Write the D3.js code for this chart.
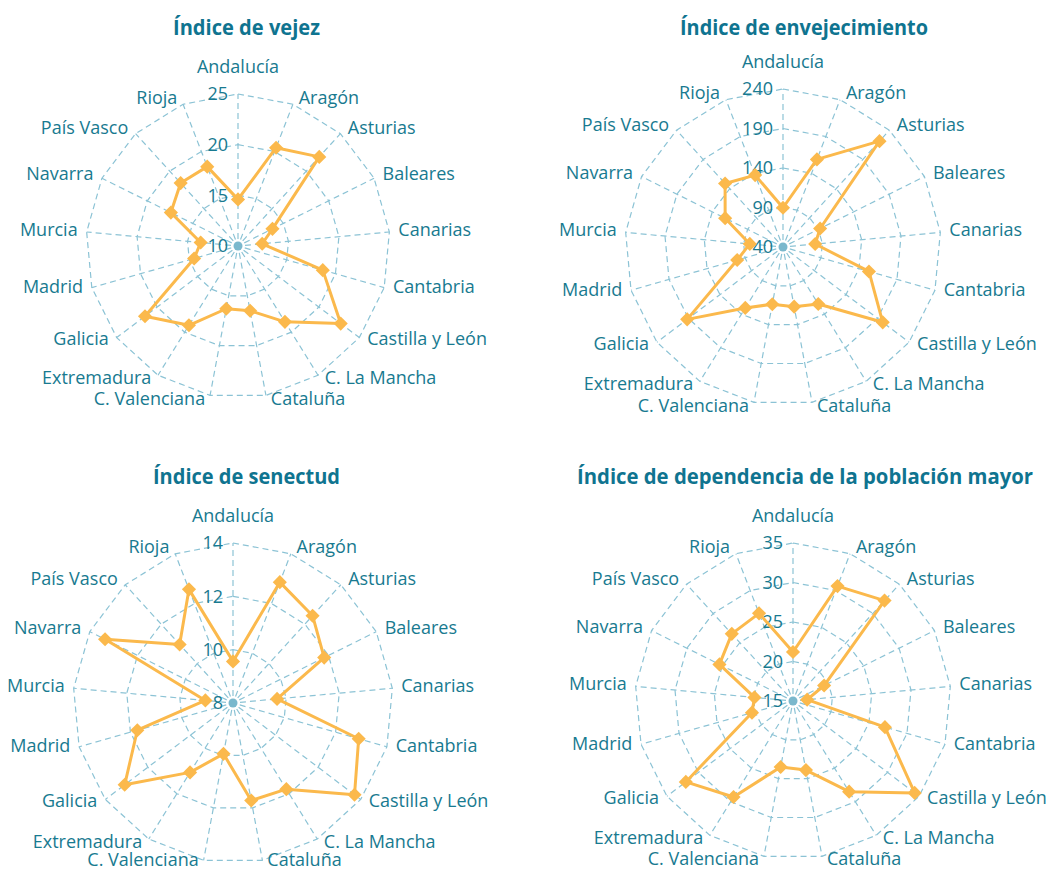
<!DOCTYPE html>
<html>
<head>
<meta charset="utf-8">
<script src="https://cdn.jsdelivr.net/npm/d3@7"></script>
<style>
  html, body { margin: 0; padding: 0; background: #ffffff; }
  svg { display: block; }
  .title { font-family: "Open Sans", "Noto Sans", sans-serif; font-weight: bold; font-size: 21px; fill: #0f7490; }
  .cat { font-family: "Open Sans", "Noto Sans", sans-serif; font-size: 18px; fill: #187a90; }
  .tick { font-family: "Open Sans", "Noto Sans", sans-serif; font-size: 18px; fill: #187a90; }
</style>
</head>
<body>
<svg id="chart" width="1053" height="870"></svg>
<script>
// ---- Data ----
const categories = ["Andalucía", "Aragón", "Asturias", "Baleares", "Canarias", "Cantabria",
  "Castilla y León", "C. La Mancha", "Cataluña", "C. Valenciana", "Extremadura", "Galicia",
  "Madrid", "Murcia", "Navarra", "País Vasco", "Rioja"];

const titles = ["Índice de vejez", "Índice de envejecimiento", "Índice de senectud",
  "Índice de dependencia de la población mayor"];

const vejez = [14.6, 20.4, 21.9, 13.8, 12.4, 18.7, 22.7, 18.8, 16.5, 16.3, 19.2, 21.5, 14.5, 13.7, 17.4, 18.4, 18.4];
const envejecimiento = [89.7, 158.9, 221.3, 92.5, 80.9, 153.1, 198.2, 124.8, 116.8, 113.7, 130.7, 192.0, 100.3, 82.2, 121.8, 148.8, 137.6];
const senectud = [9.56, 12.86, 12.43, 11.82, 9.66, 12.9, 13.71, 11.8, 11.72, 9.94, 11.06, 13.09, 11.73, 9.04, 13.36, 10.97, 12.57];
const dependencia = [21.2, 30.6, 32.2, 19.4, 16.8, 27.1, 34.3, 28.5, 23.9, 23.5, 29.3, 32.0, 20.4, 19.9, 25.4, 26.5, 26.9];

const ticksVejez = [10, 15, 20, 25];
const ticksEnvejecimiento = [40, 90, 140, 190, 240];
const ticksSenectud = [8, 10, 12, 14];
const ticksDependencia = [15, 20, 25, 30, 35];

// ---- Layout ----
const panels = [
  { title: titles[0], values: vejez, ticks: ticksVejez, cx: 238, cy: 246, R: 152, tx: 246.5, ty: 35, tw: 147, bottomShift: 0 },
  { title: titles[1], values: envejecimiento, ticks: ticksEnvejecimiento, cx: 783, cy: 247, R: 158, tx: 804, ty: 35, tw: 248, bottomShift: 0 },
  { title: titles[2], values: senectud, ticks: ticksSenectud, cx: 233, cy: 703, R: 160, tx: 246.5, ty: 484, tw: 187, bottomShift: -3 },
  { title: titles[3], values: dependencia, ticks: ticksDependencia, cx: 793, cy: 701, R: 158, tx: 805, ty: 484, tw: 456, bottomShift: -1 }
];

const svg = d3.select("#chart");
const n = categories.length;
const angle = d3.scaleLinear().domain([0, n]).range([0, 2 * Math.PI]);
const gridColor = "#8cc3d5";
const lineColor = "#fbb94c";

panels.forEach(p => {
  const r = d3.scaleLinear().domain([p.ticks[0], p.ticks[p.ticks.length - 1]]).range([0, p.R]);

  svg.append("text").attr("class", "title")
    .attr("x", p.tx).attr("y", p.ty).attr("text-anchor", "middle")
    .attr("textLength", p.tw).attr("lengthAdjust", "spacingAndGlyphs")
    .text(p.title);

  const g = svg.append("g").attr("transform", `translate(${p.cx},${p.cy})`);

  // rings
  const ringLine = d3.lineRadial().angle((d, i) => angle(i)).radius(d => d).curve(d3.curveLinearClosed);
  p.ticks.slice(1).forEach(t => {
    g.append("path")
      .attr("d", ringLine(categories.map(() => r(t))))
      .attr("fill", "none").attr("stroke", gridColor).attr("stroke-width", 1.2)
      .attr("stroke-dasharray", "6,4");
  });

  // spokes
  g.selectAll(".spoke").data(categories).enter().append("line")
    .attr("x1", (d, i) => Math.sin(angle(i)) * 7)
    .attr("y1", (d, i) => -Math.cos(angle(i)) * 7)
    .attr("x2", (d, i) => Math.sin(angle(i)) * p.R)
    .attr("y2", (d, i) => -Math.cos(angle(i)) * p.R)
    .attr("stroke", gridColor).attr("stroke-width", 1.2).attr("stroke-dasharray", "6,4");

  // center dot
  g.append("circle").attr("r", 4.5).attr("fill", "#7ab8cd");

  // tick labels
  g.selectAll(".tick").data(p.ticks).enter().append("text").attr("class", "tick")
    .attr("x", -10).attr("y", d => -r(d)).attr("dy", "0.35em")
    .attr("text-anchor", "end").text(d => d);

  // category labels
  g.selectAll(".cat").data(categories).enter().append("text").attr("class", "cat")
    .each(function (d, i) {
      const a = angle(i);
      const s = Math.sin(a), c = Math.cos(a);
      const sel = d3.select(this);
      if (i === 0) {
        sel.attr("x", 0).attr("y", -(p.R + 27)).attr("text-anchor", "middle");
      } else {
        const rr = p.R + 5;
        const shift = c < -0.9 ? p.bottomShift : 0;
        sel.attr("x", s * rr + (s > 0 ? 4 : -4)).attr("y", -c * rr - 2 + shift)
          .attr("text-anchor", s > 0 ? "start" : "end");
      }
      sel.attr("dy", "0.35em").text(d);
    });

  // data polygon
  const dataLine = d3.lineRadial().angle((d, i) => angle(i)).radius(d => r(d)).curve(d3.curveLinearClosed);
  g.append("path").attr("d", dataLine(p.values))
    .attr("fill", "none").attr("stroke", lineColor).attr("stroke-width", 3).attr("stroke-linejoin", "round");

  // markers
  const diamond = d3.symbol().type(d3.symbolSquare).size(100);
  g.selectAll(".mk").data(p.values).enter().append("path")
    .attr("d", diamond)
    .attr("transform", (d, i) => {
      const a = angle(i);
      return `translate(${Math.sin(a) * r(d)},${-Math.cos(a) * r(d)}) rotate(45)`;
    })
    .attr("fill", lineColor);
});
</script>
</body>
</html>
